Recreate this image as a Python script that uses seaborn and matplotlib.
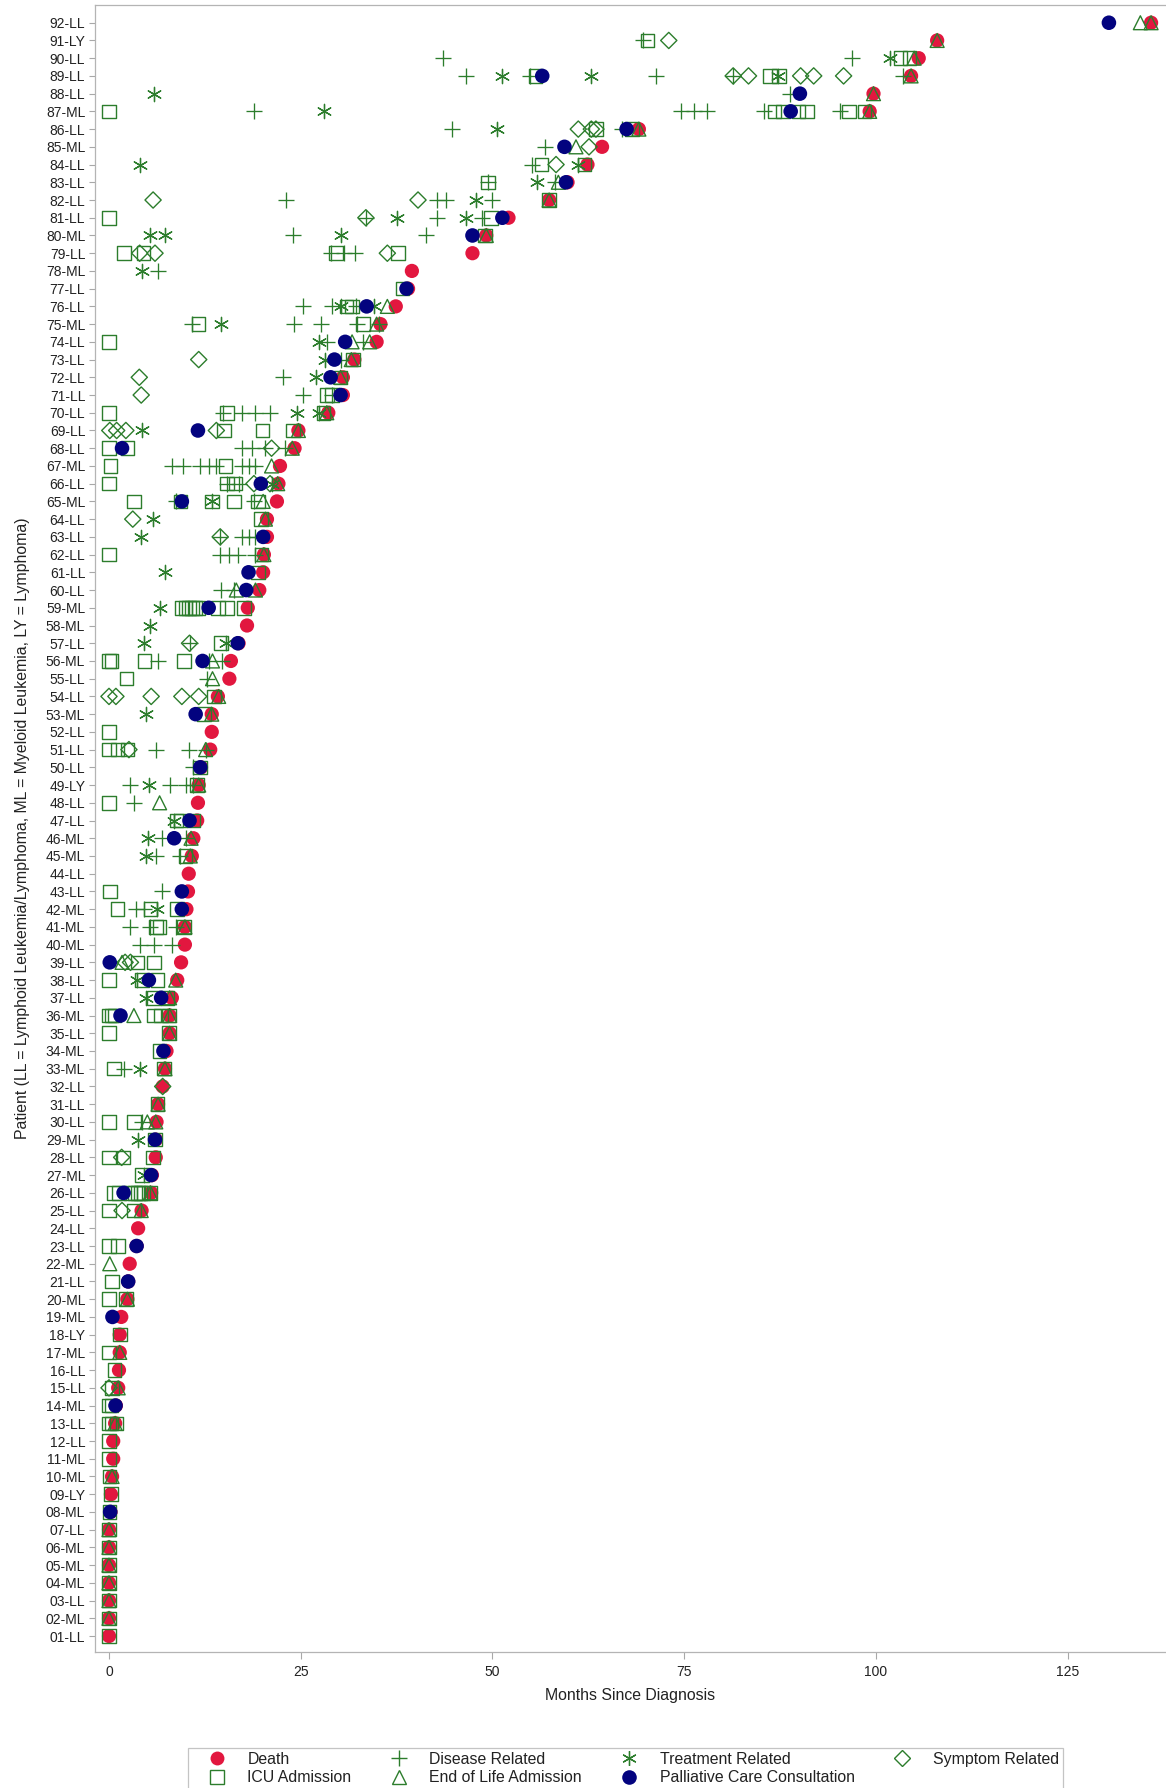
import matplotlib
matplotlib.use("Agg")
import matplotlib.pyplot as plt
from matplotlib.lines import Line2D
import pandas as pd
import seaborn as sns

# Patient labels, ordered by time of death (row 1 = earliest)
patients = [
    "01-LL", "02-ML", "03-LL", "04-ML", "05-ML", "06-ML", "07-LL", "08-ML", "09-LY", "10-ML",
    "11-ML", "12-LL", "13-LL", "14-ML", "15-LL", "16-LL", "17-ML", "18-LY", "19-ML", "20-ML",
    "21-LL", "22-ML", "23-LL", "24-LL", "25-LL", "26-LL", "27-ML", "28-LL", "29-ML", "30-LL",
    "31-LL", "32-LL", "33-ML", "34-ML", "35-LL", "36-ML", "37-LL", "38-LL", "39-LL", "40-ML",
    "41-ML", "42-ML", "43-LL", "44-LL", "45-ML", "46-ML", "47-LL", "48-LL", "49-LY", "50-LL",
    "51-LL", "52-LL", "53-ML", "54-LL", "55-LL", "56-ML", "57-LL", "58-ML", "59-ML", "60-LL",
    "61-LL", "62-LL", "63-LL", "64-LL", "65-ML", "66-LL", "67-ML", "68-LL", "69-LL", "70-LL",
    "71-LL", "72-LL", "73-LL", "74-LL", "75-ML", "76-LL", "77-LL", "78-ML", "79-LL", "80-ML",
    "81-LL", "82-LL", "83-LL", "84-LL", "85-ML", "86-LL", "87-ML", "88-LL", "89-LL", "90-LL",
    "91-LY", "92-LL",
]

# Months from diagnosis to death, one value per patient
death_month = [
    0.0, 0.0, 0.0, 0.0, 0.0, 0.0, 0.0, 0.2, 0.25, 0.4,
    0.55, 0.55, 0.8, 0.9, 1.2, 1.3, 1.4, 1.4, 1.6, 2.4,
    2.5, 2.7, 3.6, 3.8, 4.25, 5.5, 5.6, 6.1, 6.1, 6.2,
    6.4, 7.0, 7.3, 7.5, 7.9, 7.9, 8.2, 8.9, 9.4, 9.9,
    9.9, 10.1, 10.3, 10.4, 10.8, 11.0, 11.5, 11.6, 11.7, 12.0,
    13.2, 13.4, 13.4, 14.2, 15.7, 15.9, 16.9, 18.0, 18.1, 19.6,
    20.1, 20.2, 20.6, 20.6, 21.9, 22.1, 22.3, 24.2, 24.7, 28.6,
    30.5, 30.5, 32.0, 34.9, 35.4, 37.4, 39.0, 39.5, 47.4, 49.2,
    52.1, 57.4, 59.8, 62.4, 64.3, 69.1, 99.2, 99.7, 104.6, 105.6,
    108.0, 135.9,
]

# Palliative care consultation (patient number -> month)
palliative = {
    8: 0.15, 14: 0.85, 19: 0.45, 21: 2.5, 23: 3.6, 26: 1.9, 27: 5.5, 29: 6.0, 34: 7.1,
    36: 1.5, 37: 6.8, 38: 5.2, 39: 0.1, 42: 9.5, 43: 9.5, 46: 8.5, 47: 10.5, 50: 11.9,
    53: 11.3, 56: 12.2, 57: 16.8, 59: 13.0, 60: 17.9, 61: 18.2, 63: 20.1, 65: 9.5,
    66: 19.8, 68: 1.7, 69: 11.6, 71: 30.2, 72: 28.9, 73: 29.4, 74: 30.8, 76: 33.6,
    77: 38.8, 80: 47.4, 81: 51.3, 83: 59.6, 85: 59.4, 86: 67.5, 87: 88.9, 88: 90.1,
    89: 56.5, 92: 130.4,
}

# ICU admissions (patient number -> months)
icu = {
    1: [0.0], 2: [0.0], 3: [0.0], 4: [0.0], 5: [0.0], 6: [0.0], 7: [0.0], 8: [0.05],
    9: [0.25], 10: [0.05], 11: [0.0], 12: [0.0], 13: [0.0, 0.3, 1.0], 14: [0.0, 0.3],
    15: [0.4], 16: [0.7], 17: [0.0], 18: [1.4], 20: [0.0, 2.2], 21: [0.4], 23: [0.0, 1.2],
    25: [0.0, 3.25], 26: [0.65, 1.3, 2.8, 3.4, 3.8, 4.1, 4.5, 5.4], 27: [4.3],
    28: [0.0, 1.9, 5.75], 29: [6.0], 30: [0.0, 3.25], 31: [6.3], 33: [0.65, 7.15],
    34: [6.6], 35: [0.0, 7.8], 36: [0.0, 0.3, 0.7, 5.9, 6.8, 7.8], 37: [5.85, 7.6],
    38: [0.0, 4.3, 6.3], 39: [3.7, 5.85], 41: [6.1, 6.6, 9.8], 42: [1.1, 5.4, 8.9],
    43: [0.1], 45: [10.0], 47: [8.8, 9.3, 11.0], 48: [0.0], 49: [11.5], 50: [11.9],
    51: [0.0, 1.1, 2.4], 52: [0.0], 53: [12.4], 54: [13.7], 55: [2.3],
    56: [0.0, 0.3, 4.6, 9.8], 57: [14.6],
    59: [9.5, 10.0, 10.4, 10.8, 11.2, 11.7, 14.2, 15.4, 17.6], 61: [19.4],
    62: [0.0, 19.9], 64: [19.8], 65: [3.25, 9.3, 13.4, 16.3, 19.4],
    66: [0.0, 15.4, 16.5], 67: [0.2, 15.2], 68: [0.0, 2.4], 69: [15.0, 20.0, 24.0],
    70: [0.0, 15.4, 28.0], 71: [28.4, 29.1], 72: [30.2], 73: [31.8], 74: [0.0],
    75: [11.7, 33.1], 76: [31.0, 31.7], 77: [38.3], 79: [1.95, 4.5, 29.6, 37.7],
    80: [49.0], 81: [0.0, 49.8], 82: [57.4], 83: [49.4], 84: [56.4, 62.0],
    86: [63.5, 68.2], 87: [0.0, 86.8, 87.9, 89.9, 91.0, 96.5, 98.5],
    89: [55.6, 86.2, 87.4], 90: [103.2, 104.4], 91: [70.2],
}

# End of life admissions (patient number -> months)
end_of_life = {
    2: [0.0], 3: [0.0], 4: [0.0], 5: [0.0], 6: [0.0], 7: [0.0], 10: [0.4], 13: [0.8],
    15: [1.2], 17: [1.4], 20: [2.4], 22: [0.1], 25: [4.2], 26: [5.4], 30: [5.0, 6.1],
    31: [6.4], 33: [7.3], 35: [7.9], 36: [3.25, 7.9], 37: [7.9], 38: [8.7], 39: [1.7],
    41: [9.9], 45: [10.6], 46: [10.7], 48: [6.6], 49: [11.7], 51: [12.6], 53: [13.4],
    54: [14.3], 55: [13.5], 56: [13.5], 60: [16.6, 19.1], 62: [20.2], 64: [20.4],
    65: [20.1], 66: [22.0], 67: [21.2], 68: [23.9], 69: [24.7], 70: [28.4], 72: [30.2],
    73: [31.6], 74: [31.7, 34.0], 75: [34.9], 76: [36.3], 80: [49.2], 82: [57.4],
    83: [58.6], 85: [60.9], 86: [69.1], 87: [99.2], 88: [99.7], 89: [104.6],
    90: [105.0], 91: [108.0], 92: [134.5, 135.9],
}

# Disease related hospitalizations (patient number -> months)
disease = {
    30: [4.3], 33: [1.95], 40: [4.1, 5.85, 8.2], 41: [2.7, 5.4, 8.7], 42: [3.5, 4.6],
    43: [6.9], 45: [6.1, 9.3], 46: [6.9, 10.0], 48: [3.3], 49: [2.8, 7.9, 10.0, 10.9],
    50: [11.0], 51: [6.1, 10.4, 12.6], 55: [12.8], 56: [6.35, 13.0, 14.7], 57: [10.5],
    60: [14.6, 16.3], 62: [14.5, 15.6, 16.8, 19.1], 63: [14.5, 17.3, 18.2, 19.1],
    65: [8.7, 18.9], 66: [15.4, 17.0],
    67: [8.2, 9.6, 11.9, 13.1, 14.0, 17.3, 18.2, 19.1], 68: [17.3, 18.6, 20.3, 22.9],
    70: [14.9, 17.3, 19.1, 21.0], 71: [25.3, 29.1], 72: [22.7], 73: [30.3],
    74: [28.4, 33.1], 75: [10.8, 24.1, 27.7, 32.4, 35.2], 76: [25.3, 29.1, 32.2],
    78: [6.35], 79: [28.9, 30.7, 32.1], 80: [24.0, 41.3], 81: [33.5, 42.8, 48.6],
    82: [23.1, 42.8, 44.0, 50.0], 83: [49.4, 58.2], 84: [55.2], 85: [56.8],
    86: [44.7, 66.9], 87: [18.9, 74.6, 76.3, 78.0, 85.4, 95.3], 88: [88.8],
    89: [46.5, 54.9, 71.4, 81.4, 103.6], 90: [43.6, 96.9], 91: [69.7],
}

# Treatment related hospitalizations (patient number -> months)
treatment = {
    27: [4.5], 29: [3.8], 33: [4.1], 37: [4.8], 38: [3.7], 42: [6.3], 45: [4.8],
    46: [5.1], 47: [8.5], 49: [5.2], 53: [4.8], 57: [4.6, 15.3], 58: [5.4], 59: [6.6],
    61: [7.3], 63: [4.2], 64: [5.75], 65: [13.4], 66: [21.3], 69: [4.3],
    70: [24.5, 27.4], 72: [27.0], 73: [28.2], 74: [27.4], 75: [14.6], 76: [30.3, 34.5],
    78: [4.3], 80: [5.4, 7.3, 30.3], 81: [37.6, 46.5], 82: [47.9], 83: [55.8],
    84: [4.0, 61.2], 86: [50.6], 87: [28.0], 88: [5.9], 89: [51.2, 62.9, 87.3],
    90: [101.9],
}

# Symptom related hospitalizations (patient number -> months)
symptom = {
    15: [0.0], 25: [1.7], 28: [1.65], 32: [7.0], 39: [2.1, 2.8], 51: [2.6],
    54: [0.0, 0.9, 5.5, 9.5, 11.7], 57: [10.5], 63: [14.5], 64: [3.1], 66: [18.9, 21.0],
    68: [21.2], 69: [0.1, 1.0, 2.2, 14.0], 71: [4.2], 72: [3.95], 73: [11.7],
    79: [4.0, 6.0, 36.3], 81: [33.5], 82: [5.75, 40.3], 84: [58.3], 85: [62.6],
    86: [61.2, 62.9, 63.5], 89: [81.4, 83.4, 90.2, 91.9, 95.8], 91: [73.0],
}

RED = "#E2173F"
NAVY = "#03037F"
GREEN = "#2C7D2C"
LABEL_SIZE = 11.4


def to_frame(events):
    rows = []
    for pid, months in events.items():
        if not isinstance(months, list):
            months = [months]
        rows.extend((pid, m) for m in months)
    return pd.DataFrame(rows, columns=["patient", "month"])


death_df = pd.DataFrame({"patient": range(1, len(death_month) + 1), "month": death_month})

sns.set_style("white")
plt.rcParams["font.family"] = ["Liberation Sans", "DejaVu Sans"]
plt.rcParams["font.size"] = 10

fig = plt.figure(figsize=(11.66, 17.88), dpi=100)
ax = fig.add_axes([95 / 1166, 1 - 1652 / 1788, 1 - 95 / 1166, 1647 / 1788])

# Death underneath, hospital events over it, palliative consult on top
sns.scatterplot(data=death_df, x="month", y="patient", ax=ax, marker="o", s=105,
                color=RED, edgecolor="none", zorder=2, legend=False)

green_layers = [
    (icu, "s", 95),
    (end_of_life, "^", 100),
    (symptom, "D", 68),
]
for events, mk, size in green_layers:
    sns.scatterplot(data=to_frame(events), x="month", y="patient", ax=ax, marker=mk, s=size,
                    facecolors="none", edgecolor=GREEN, linewidth=1.0, zorder=3, legend=False)

for events, mk, size in [(disease, "+", 120), (treatment, (6, 2, 0), 105)]:
    sns.scatterplot(data=to_frame(events), x="month", y="patient", ax=ax, marker=mk, s=size,
                    color=GREEN, linewidth=0.95, zorder=3, legend=False)

sns.scatterplot(data=to_frame(palliative), x="month", y="patient", ax=ax, marker="o", s=110,
                color=NAVY, edgecolor="none", zorder=4, legend=False)

ax.set_xlim((95 - 109) / 7.668, (1166 - 109) / 7.668)
ax.set_ylim(0.1, 93.0)
ax.set_xticks([0, 25, 50, 75, 100, 125])
ax.set_yticks(range(1, len(patients) + 1))
ax.set_yticklabels(patients)

for side in ["left", "top", "bottom"]:
    ax.spines[side].set_color("#b4b4b4")
    ax.spines[side].set_linewidth(0.9)
ax.spines["right"].set_visible(False)

ax.tick_params(axis="both", which="major", length=4.5, width=0.8, color="#a8a8a8",
               labelsize=10, labelcolor="#222222", pad=2.5, left=True, bottom=True)
ax.tick_params(axis="x", length=5, pad=4)

ax.set_xlabel("Months Since Diagnosis", fontsize=LABEL_SIZE, color="#222222", labelpad=7)
ax.set_ylabel("Patient (LL = Lymphoid Leukemia/Lymphoma, ML = Myeloid Leukemia, LY = Lymphoma)",
              fontsize=LABEL_SIZE, color="#222222", labelpad=11)

handles = [
    Line2D([], [], linestyle="none", marker="o", markersize=10, color=RED, markeredgecolor="none"),
    Line2D([], [], linestyle="none", marker="s", markersize=9.5, markerfacecolor="none",
           markeredgecolor=GREEN, markeredgewidth=1.0),
    Line2D([], [], linestyle="none", marker="+", markersize=11, color=GREEN, markeredgewidth=1.0),
    Line2D([], [], linestyle="none", marker="^", markersize=10, markerfacecolor="none",
           markeredgecolor=GREEN, markeredgewidth=1.0),
    Line2D([], [], linestyle="none", marker=(6, 2, 0), markersize=10.5, color=GREEN,
           markeredgewidth=0.95),
    Line2D([], [], linestyle="none", marker="o", markersize=10.5, color=NAVY, markeredgecolor="none"),
    Line2D([], [], linestyle="none", marker="D", markersize=8.2, markerfacecolor="none",
           markeredgecolor=GREEN, markeredgewidth=1.0),
]
labels = ["Death", "ICU Admission", "Disease Related", "End of Life Admission",
          "Treatment Related", "Palliative Care Consultation", "Symptom Related"]
leg = fig.legend(handles, labels, ncol=4, loc="upper left",
                 bbox_to_anchor=(188 / 1166, 1 - 1748 / 1788), borderaxespad=0,
                 fontsize=LABEL_SIZE, frameon=True, fancybox=False, framealpha=1,
                 edgecolor="#c4c4c4", borderpad=0.25, labelspacing=0.2,
                 handlelength=3.1, handletextpad=0.4, columnspacing=1.42)
leg.get_frame().set_linewidth(0.9)
for t in leg.get_texts():
    t.set_color("#222222")

fig.savefig("out.png", dpi=100)
